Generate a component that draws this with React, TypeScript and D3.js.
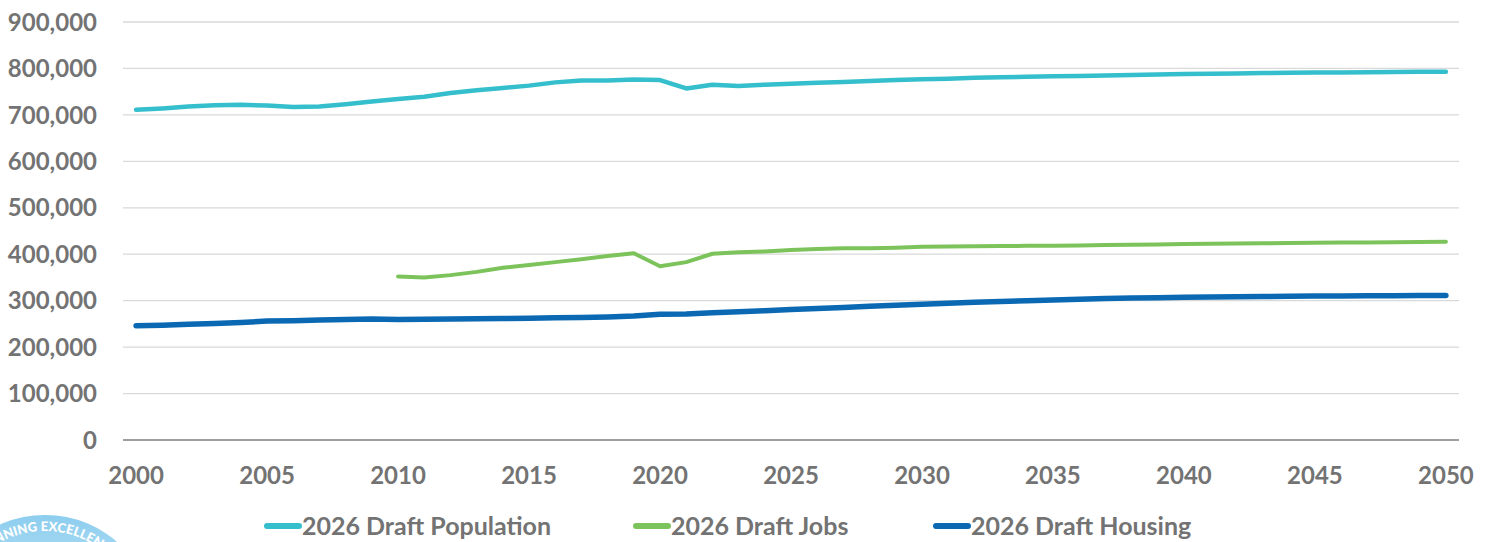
import React, { useEffect, useRef } from 'react';
import * as d3 from 'd3';

// years on the category axis
const years: number[] = d3.range(2000, 2051);

const xTickLabels = ['2000', '2005', '2010', '2015', '2020', '2025', '2030', '2035', '2040', '2045', '2050'];
const yTickValues = [0, 100000, 200000, 300000, 400000, 500000, 600000, 700000, 800000, 900000];

const population: number[] = [
  711000, 714000, 718000, 721000, 722000, 720000, 717000, 718000, 723000, 729000,
  734000, 739000, 747000, 753000, 758000, 763000, 770000, 774000, 774000, 776000,
  775000, 757000, 765000, 762000, 765000, 767000, 769000, 771000, 773000, 775000,
  777000, 778000, 780000, 781000, 782000, 783000, 784000, 785000, 786000, 787000,
  788000, 788500, 789000, 790000, 790500, 791000, 791500, 792000, 792500, 793000,
  793000,
];

const jobs: (number | null)[] = [
  null, null, null, null, null, null, null, null, null, null,
  352000, 350000, 355000, 362000, 371000, 377000, 383000, 389000, 396000, 402000,
  374000, 383000, 401000, 404000, 406000, 409000, 411000, 413000, 413000, 414000,
  416000, 416500, 417000, 417500, 418000, 418500, 419000, 420000, 420500, 421000,
  422000, 422500, 423000, 423500, 424000, 424500, 425000, 425500, 426000, 426500,
  427000,
];

const housing: number[] = [
  246000, 247000, 249000, 251000, 253000, 256000, 257000, 258500, 259500, 260500,
  259500, 260000, 260500, 261000, 261500, 262000, 263000, 263500, 265000, 267000,
  271000, 271500, 274000, 276000, 278500, 281000, 283000, 285500, 288000, 290000,
  292500, 294500, 296500, 298000, 300000, 301500, 303000, 304500, 305500, 306500,
  307500, 308000, 308500, 309000, 309500, 310000, 310300, 310600, 310800, 311000,
  311200,
];

const seriesNames = ['2026 Draft Population', '2026 Draft Jobs', '2026 Draft Housing'];
const seriesColors = ['#35bfcc', '#7dc35b', '#0b69b3'];
const seriesWidths = [4.5, 4, 5.5];

const WIDTH = 1494;
const HEIGHT = 542;
const FONT = 'Lato, "Open Sans", sans-serif';
const TEXT = '#737373';

const App: React.FC = () => {
  const svgRef = useRef<SVGSVGElement>(null);

  useEffect(() => {
    if (!svgRef.current) return;
    const svg = d3.select(svgRef.current);
    svg.selectAll('*').remove();

    const plot = { left: 123, right: 1459, top: 22, bottom: 440 };

    const x = d3.scalePoint<number>()
      .domain(years)
      .range([plot.left, plot.right])
      .padding(0.5);
    const y = d3.scaleLinear().domain([0, 900000]).range([plot.bottom, plot.top]);

    // gridlines
    svg.append('g')
      .selectAll('line')
      .data(yTickValues.filter((v) => v > 0))
      .join('line')
      .attr('x1', plot.left)
      .attr('x2', plot.right)
      .attr('y1', (d) => y(d))
      .attr('y2', (d) => y(d))
      .attr('stroke', '#d9d9d9')
      .attr('stroke-width', 1.3);

    // baseline
    svg.append('line')
      .attr('x1', plot.left)
      .attr('x2', plot.right)
      .attr('y1', y(0))
      .attr('y2', y(0))
      .attr('stroke', '#404040')
      .attr('stroke-width', 1.2);

    // y labels
    const fmt = d3.format(',');
    svg.append('g')
      .selectAll('text')
      .data(yTickValues)
      .join('text')
      .attr('x', 97)
      .attr('y', (d) => y(d))
      .attr('dy', '0.36em')
      .attr('text-anchor', 'end')
      .attr('font-family', FONT)
      .attr('font-weight', 700)
      .attr('font-size', 24)
      .attr('fill', TEXT)
      .text((d) => fmt(d));

    // x labels
    svg.append('g')
      .selectAll('text')
      .data(xTickLabels)
      .join('text')
      .attr('x', (d) => x(+d)!)
      .attr('y', 484)
      .attr('text-anchor', 'middle')
      .attr('font-family', FONT)
      .attr('font-weight', 700)
      .attr('font-size', 24)
      .attr('fill', TEXT)
      .text((d) => d);

    // lines
    const allSeries = [population, jobs, housing];
    const line = d3.line<number | null>()
      .defined((d) => d != null)
      .x((_, i) => x(years[i])!)
      .y((d) => y(d as number));

    allSeries.forEach((data, i) => {
      svg.append('path')
        .datum(data)
        .attr('fill', 'none')
        .attr('stroke', seriesColors[i])
        .attr('stroke-width', seriesWidths[i])
        .attr('stroke-linecap', 'round')
        .attr('stroke-linejoin', 'round')
        .attr('d', line);
    });

    // legend
    const legendX = [265, 634, 934];
    const legend = svg.append('g');
    seriesNames.forEach((name, i) => {
      const g = legend.append('g').attr('transform', `translate(${legendX[i]},526)`);
      g.append('line')
        .attr('x1', 2)
        .attr('x2', 34)
        .attr('stroke', seriesColors[i])
        .attr('stroke-width', 6)
        .attr('stroke-linecap', 'round');
      g.append('text')
        .attr('x', 37)
        .attr('dy', '0.36em')
        .attr('font-family', FONT)
        .attr('font-weight', 700)
        .attr('font-size', 25)
        .attr('fill', TEXT)
        .text(name);
    });

    // partial badge in the bottom-left corner (cut off by the page edge)
    const cx = 45;
    const cy = 625;
    const defs = svg.append('defs');
    const grad = defs.append('linearGradient')
      .attr('id', 'badge-fill')
      .attr('x1', '0%').attr('y1', '0%')
      .attr('x2', '0%').attr('y2', '100%');
    grad.append('stop').attr('offset', '0%').attr('stop-color', '#8ccdee');
    grad.append('stop').attr('offset', '25%').attr('stop-color', '#b0def4');

    const arcPath = d3.path();
    arcPath.arc(cx, cy, 94, -Math.PI / 2 - 1.1, -Math.PI / 2 + 1.1);
    defs.append('path').attr('id', 'badge-arc').attr('d', arcPath.toString());

    const badge = svg.append('g');
    badge.append('circle')
      .attr('cx', cx)
      .attr('cy', cy)
      .attr('r', 110)
      .attr('fill', 'url(#badge-fill)');
    badge.append('text')
      .attr('font-family', FONT)
      .attr('font-weight', 900)
      .attr('font-size', 13)
      .attr('fill', '#ffffff')
      .attr('text-anchor', 'middle')
      .append('textPath')
      .attr('href', '#badge-arc')
      .attr('startOffset', '50%')
      .text('PLANNING EXCELLENCE');
  }, []);

  return (
    <svg
      ref={svgRef}
      width={WIDTH}
      height={HEIGHT}
      style={{ position: 'absolute', left: 0, top: 0, background: '#ffffff' }}
    />
  );
};

export default App;
